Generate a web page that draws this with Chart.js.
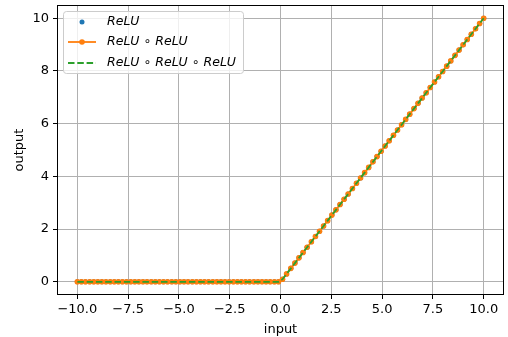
<!DOCTYPE html>
<html>
<head>
<meta charset="utf-8">
<script src="https://cdn.jsdelivr.net/npm/chart.js@4/dist/chart.umd.min.js"></script>
<style>
  html, body { margin: 0; padding: 0; background: #fff; }
  canvas { display: block; }
</style>
</head>
<body>
<canvas id="relu" width="508" height="337"></canvas>
<script>
// input values (100 points from -10 to 10)
var inputX = [
  -10, -9.8, -9.6, -9.39, -9.19, -8.99, -8.79, -8.59, -8.38, -8.18,
  -7.98, -7.78, -7.58, -7.37, -7.17, -6.97, -6.77, -6.57, -6.36, -6.16,
  -5.96, -5.76, -5.56, -5.35, -5.15, -4.95, -4.75, -4.55, -4.34, -4.14,
  -3.94, -3.74, -3.54, -3.33, -3.13, -2.93, -2.73, -2.53, -2.32, -2.12,
  -1.92, -1.72, -1.52, -1.31, -1.11, -0.91, -0.71, -0.51, -0.3, -0.1,
  0.1, 0.3, 0.51, 0.71, 0.91, 1.11, 1.31, 1.52, 1.72, 1.92,
  2.12, 2.32, 2.53, 2.73, 2.93, 3.13, 3.33, 3.54, 3.74, 3.94,
  4.14, 4.34, 4.55, 4.75, 4.95, 5.15, 5.35, 5.56, 5.76, 5.96,
  6.16, 6.36, 6.57, 6.77, 6.97, 7.17, 7.37, 7.58, 7.78, 7.98,
  8.18, 8.38, 8.59, 8.79, 8.99, 9.19, 9.39, 9.6, 9.8, 10
];

// outputs (all three curves overlap)
var reluOut = [
  0, 0, 0, 0, 0, 0, 0, 0, 0, 0,
  0, 0, 0, 0, 0, 0, 0, 0, 0, 0,
  0, 0, 0, 0, 0, 0, 0, 0, 0, 0,
  0, 0, 0, 0, 0, 0, 0, 0, 0, 0,
  0, 0, 0, 0, 0, 0, 0, 0, 0, 0,
  0.1, 0.3, 0.51, 0.71, 0.91, 1.11, 1.31, 1.52, 1.72, 1.92,
  2.12, 2.32, 2.53, 2.73, 2.93, 3.13, 3.33, 3.54, 3.74, 3.94,
  4.14, 4.34, 4.55, 4.75, 4.95, 5.15, 5.35, 5.56, 5.76, 5.96,
  6.16, 6.36, 6.57, 6.77, 6.97, 7.17, 7.37, 7.58, 7.78, 7.98,
  8.18, 8.38, 8.59, 8.79, 8.99, 9.19, 9.39, 9.6, 9.8, 10
];
var relu2Out = reluOut.slice();
var relu3Out = reluOut.slice();

var xTicks = [-10, -7.5, -5, -2.5, 0, 2.5, 5, 7.5, 10];
var yTicks = [0, 2, 4, 6, 8, 10];

var seriesLabels = ['ReLU', 'ReLU \u2218 ReLU', 'ReLU \u2218 ReLU \u2218 ReLU'];

var FONT = 'DejaVu Sans';

function toPoints(xs, ys){
    return xs.map(function(x, i){ return {x: x, y: ys[i]}; });
}

function fmtX(v){
    var s = Math.abs(v).toFixed(1);
    return v < 0 ? '\u2212' + s : s;
}

// frame around the plot + legend box in the upper left
var framePlugin = {
    id: 'frame',
    afterDraw: function(chart){
        var ctx = chart.ctx;
        var a = chart.chartArea;
        ctx.save();
        ctx.strokeStyle = '#000';
        ctx.lineWidth = 1;
        ctx.strokeRect(Math.round(a.left) + 0.5, Math.round(a.top) + 0.5,
                       Math.round(a.right - a.left) - 1, Math.round(a.bottom - a.top) - 1);

        // legend
        var bx = 63.5, by = 11.5, bw = 180, bh = 62;
        ctx.beginPath();
        if (ctx.roundRect) ctx.roundRect(bx, by, bw, bh, 3); else ctx.rect(bx, by, bw, bh);
        ctx.fillStyle = 'rgba(255,255,255,0.8)';
        ctx.fill();
        ctx.strokeStyle = '#cccccc';
        ctx.stroke();

        var rows = [22, 42, 63];
        var ds = chart.data.datasets;
        for (var i = 0; i < ds.length; i++){
            var d = ds[i];
            var y = rows[i];
            if (d.showLine){
                ctx.beginPath();
                ctx.setLineDash(d.borderDash || []);
                ctx.strokeStyle = d.borderColor;
                ctx.lineWidth = d.borderWidth;
                ctx.moveTo(68, y);
                ctx.lineTo(96, y);
                ctx.stroke();
                ctx.setLineDash([]);
            }
            if (d.pointRadius > 0){
                ctx.beginPath();
                ctx.arc(82, y, d.pointRadius, 0, Math.PI * 2);
                ctx.fillStyle = d.pointBackgroundColor;
                ctx.fill();
            }
            // label: ReLU in italic, composition sign upright
            var parts = d.label.split(' \u2218 ');
            var tx = 107;
            ctx.fillStyle = '#000';
            ctx.textBaseline = 'middle';
            ctx.textAlign = 'left';
            for (var p = 0; p < parts.length; p++){
                if (p > 0){
                    ctx.font = '12.5px "' + FONT + '"';
                    var sep = ' \u2218 ';
                    ctx.fillText(sep, tx, y);
                    tx += ctx.measureText(sep).width;
                }
                ctx.font = 'italic 12.5px "' + FONT + '"';
                ctx.fillText(parts[p], tx, y);
                tx += ctx.measureText(parts[p]).width;
            }
        }
        ctx.restore();
    }
};

function noPad(axis){
    axis.paddingTop = 0;
    axis.paddingBottom = 0;
    axis.paddingLeft = 0;
    axis.paddingRight = 0;
}

new Chart(document.getElementById('relu'), {
    type: 'scatter',
    data: {
        datasets: [
            {
                label: seriesLabels[0],
                data: toPoints(inputX, reluOut),
                showLine: false,
                pointRadius: 2.5,
                pointBackgroundColor: '#1f77b4',
                pointBorderWidth: 0,
                borderColor: '#1f77b4',
                order: 3
            },
            {
                label: seriesLabels[1],
                data: toPoints(inputX, relu2Out),
                showLine: true,
                borderColor: '#ff7f0e',
                borderWidth: 1.8,
                pointRadius: 2.8,
                pointBackgroundColor: '#ff7f0e',
                pointBorderWidth: 0,
                tension: 0,
                order: 2
            },
            {
                label: seriesLabels[2],
                data: toPoints(inputX, relu3Out),
                showLine: true,
                borderColor: '#2ca02c',
                borderWidth: 1.8,
                borderDash: [6.5, 2.8],
                pointRadius: 0,
                tension: 0,
                order: 1
            }
        ]
    },
    options: {
        responsive: false,
        animation: false,
        devicePixelRatio: 1,
        layout: { padding: { top: 5, right: 3, left: 0, bottom: 0 } },
        plugins: {
            legend: { display: false },
            tooltip: { enabled: false }
        },
        scales: {
            x: {
                type: 'linear',
                min: -11,
                max: 11,
                afterBuildTicks: function(axis){
                    axis.ticks = xTicks.map(function(v){ return {value: v}; });
                },
                afterFit: function(axis){ axis.height = 42; noPad(axis); },
                grid: {
                    color: '#b0b0b0',
                    lineWidth: 1,
                    tickColor: '#000',
                    tickLength: 4,
                    drawTicks: true
                },
                border: { display: false },
                ticks: {
                    color: '#000',
                    padding: 3,
                    maxRotation: 0,
                    autoSkip: false,
                    font: { family: FONT, size: 13 },
                    callback: function(v){ return fmtX(v); }
                },
                title: {
                    display: true,
                    text: 'input',
                    color: '#000',
                    padding: { top: 1, bottom: 0 },
                    font: { family: FONT, size: 13 }
                }
            },
            y: {
                type: 'linear',
                min: -0.5,
                max: 10.5,
                afterBuildTicks: function(axis){
                    axis.ticks = yTicks.map(function(v){ return {value: v}; });
                },
                afterFit: function(axis){ axis.width = 57; noPad(axis); },
                grid: {
                    color: '#b0b0b0',
                    lineWidth: 1,
                    tickColor: '#000',
                    tickLength: 4,
                    drawTicks: true
                },
                border: { display: false },
                ticks: {
                    color: '#000',
                    padding: 4,
                    autoSkip: false,
                    font: { family: FONT, size: 13 },
                    callback: function(v){ return String(v); }
                },
                title: {
                    display: true,
                    text: 'output',
                    color: '#000',
                    padding: { top: 12, bottom: 4 },
                    font: { family: FONT, size: 13 }
                }
            }
        }
    },
    plugins: [framePlugin]
});
</script>
</body>
</html>
